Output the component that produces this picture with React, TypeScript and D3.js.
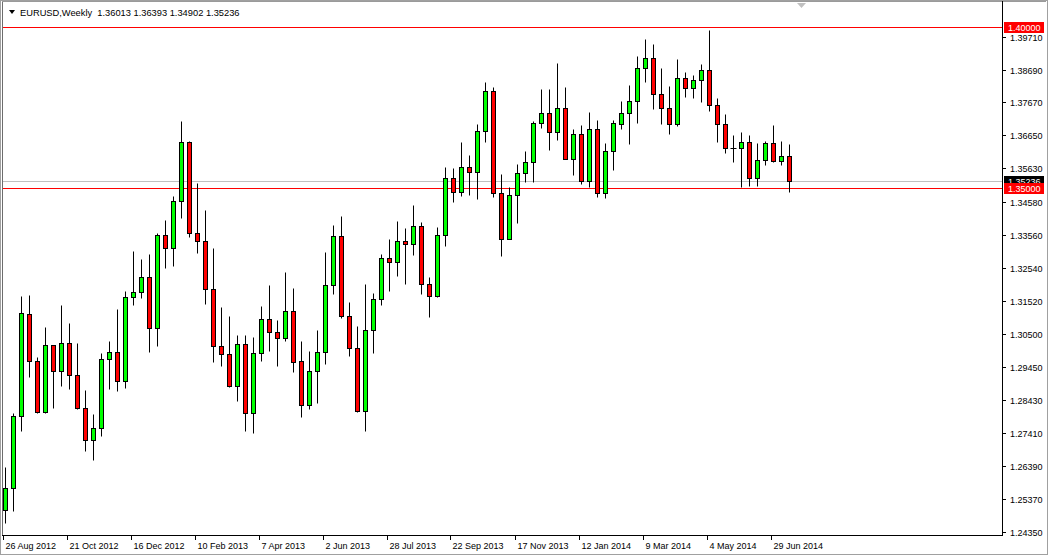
import React from 'react';
import * as d3 from 'd3';

const W = 1048;
const H = 555;
const plot = { left: 3, right: 1003, top: 2, bottom: 535 };

const dateLabels = [
  '26 Aug 2012', '21 Oct 2012', '16 Dec 2012', '10 Feb 2013', '7 Apr 2013',
  '2 Jun 2013', '28 Jul 2013', '22 Sep 2013', '17 Nov 2013', '12 Jan 2014',
  '9 Mar 2014', '4 May 2014', '29 Jun 2014',
];

const priceTicks = [
  1.3971, 1.3869, 1.3767, 1.3665, 1.3563, 1.3458, 1.3356, 1.3254,
  1.3152, 1.305, 1.2945, 1.2843, 1.2741, 1.2639, 1.2537, 1.2435,
];

const opens = [
  1.2501, 1.2572, 1.2793, 1.311, 1.2964, 1.2805, 1.3013, 1.2933, 1.302, 1.292,
  1.2818, 1.2718, 1.2756, 1.297, 1.2992, 1.2902, 1.3163, 1.3178, 1.3225, 1.3066,
  1.3355, 1.3315, 1.3461, 1.3644, 1.3361, 1.3337, 1.3187, 1.301, 1.2986, 1.2886,
  1.3017, 1.2802, 1.2989, 1.3094, 1.3054, 1.3035, 1.3119, 1.2964, 1.2827, 1.2933,
  1.2992, 1.32, 1.3352, 1.3104, 1.3004, 1.2808, 1.306, 1.3156, 1.3284, 1.3271,
  1.3337, 1.3327, 1.3383, 1.3203, 1.3166, 1.3355, 1.3532, 1.3489, 1.3566, 1.3551,
  1.3678, 1.3802, 1.3486, 1.3343, 1.3479, 1.3548, 1.3582, 1.3703, 1.3734, 1.3675,
  1.375, 1.3591, 1.3669, 1.3523, 1.3684, 1.3486, 1.3616, 1.37, 1.3734, 1.3771,
  1.3874, 1.3905, 1.3793, 1.375, 1.37, 1.3843, 1.3812, 1.3837, 1.3868, 1.3759,
  1.37, 1.3625, 1.3625, 1.3644, 1.3532, 1.3588, 1.3641, 1.3585, 1.36013,
];

const highs = [
  1.2635, 1.2802, 1.3166, 1.3169, 1.2976, 1.3069, 1.3013, 1.3138, 1.3082, 1.302,
  1.2874, 1.2799, 1.2989, 1.3026, 1.3125, 1.3181, 1.3305, 1.3281, 1.3296, 1.3361,
  1.3402, 1.3476, 1.3709, 1.3647, 1.3517, 1.3433, 1.3315, 1.3132, 1.3104, 1.3045,
  1.3045, 1.3038, 1.3135, 1.32, 1.3091, 1.324, 1.3191, 1.3026, 1.2995, 1.306,
  1.3302, 1.3386, 1.3414, 1.3147, 1.3072, 1.3203, 1.3175, 1.3296, 1.3343, 1.3399,
  1.3377, 1.3448, 1.3396, 1.3225, 1.338, 1.3566, 1.3563, 1.3644, 1.3604, 1.37,
  1.383, 1.3815, 1.3545, 1.3504, 1.3576, 1.3616, 1.3709, 1.3809, 1.3809, 1.3889,
  1.3815, 1.3684, 1.3697, 1.3737, 1.3712, 1.3641, 1.3712, 1.3771, 1.3821, 1.3911,
  1.3964, 1.3948, 1.3874, 1.3818, 1.3902, 1.3861, 1.3852, 1.3886, 1.3992, 1.3781,
  1.3731, 1.3666, 1.3675, 1.3666, 1.3641, 1.3647, 1.3697, 1.3647, 1.36393,
];

const lows = [
  1.2461, 1.2498, 1.2746, 1.2914, 1.2802, 1.2802, 1.2818, 1.2886, 1.2877, 1.2815,
  1.2684, 1.2659, 1.2731, 1.2877, 1.2871, 1.288, 1.3138, 1.3159, 1.2992, 1.301,
  1.3253, 1.3259, 1.3408, 1.3349, 1.3299, 1.3141, 1.2961, 1.2948, 1.2883, 1.284,
  1.2746, 1.274, 1.2964, 1.2995, 1.2948, 1.3026, 1.293, 1.279, 1.2815, 1.2833,
  1.2954, 1.3172, 1.3097, 1.2979, 1.2805, 1.2749, 1.2989, 1.3138, 1.3181, 1.3228,
  1.3203, 1.3293, 1.3172, 1.31, 1.3163, 1.3321, 1.3458, 1.3476, 1.3479, 1.3467,
  1.3644, 1.3473, 1.329, 1.3343, 1.3392, 1.352, 1.352, 1.3687, 1.3619, 1.365,
  1.3591, 1.3541, 1.3514, 1.3504, 1.3473, 1.347, 1.3557, 1.3684, 1.3638, 1.3703,
  1.383, 1.3746, 1.37, 1.3669, 1.3694, 1.3784, 1.3781, 1.3768, 1.374, 1.3644,
  1.361, 1.3582, 1.3504, 1.3507, 1.3507, 1.3572, 1.3582, 1.3572, 1.34902,
];

const closes = [
  1.2572, 1.2793, 1.3113, 1.2964, 1.2805, 1.3013, 1.2933, 1.302, 1.292, 1.2818,
  1.2718, 1.2756, 1.297, 1.2992, 1.2902, 1.3163, 1.3178, 1.3225, 1.3066, 1.3355,
  1.3315, 1.3461, 1.3644, 1.3361, 1.3337, 1.3187, 1.301, 1.2986, 1.2886, 1.3017,
  1.2802, 1.2989, 1.3094, 1.3054, 1.3035, 1.3119, 1.2961, 1.2827, 1.2933, 1.2992,
  1.32, 1.3352, 1.3104, 1.3004, 1.2808, 1.306, 1.3156, 1.3284, 1.3271, 1.3337,
  1.3327, 1.3383, 1.3203, 1.3166, 1.3355, 1.3532, 1.3489, 1.3566, 1.3551, 1.3678,
  1.3802, 1.3486, 1.3343, 1.3479, 1.3548, 1.3582, 1.3703, 1.3734, 1.3675, 1.375,
  1.3591, 1.3669, 1.3523, 1.3684, 1.3486, 1.3616, 1.3703, 1.3734, 1.3771, 1.3874,
  1.3905, 1.3793, 1.375, 1.37, 1.3843, 1.3812, 1.3837, 1.3868, 1.3759, 1.37,
  1.3625, 1.3625, 1.3644, 1.3532, 1.3588, 1.3641, 1.3585, 1.36, 1.35236,
];

const levels = [
  { price: 1.4, color: '#ff0000' },
  { price: 1.35, color: '#ff0000' },
];
const bid = 1.35236;

const font = '"Liberation Sans", Arial, sans-serif';

export default function App() {
  const x = d3.scaleLinear().domain([0, 98]).range([5.5, 789.5]);
  const y = d3.scaleLinear().domain([1.2435, 1.3971]).range([531.7, 36.7]);
  const snap = (v: number) => Math.round(v) + 0.5;
  const fmt = d3.format('.5f');

  return (
    <svg
      width={W}
      height={H}
      style={{ position: 'absolute', left: 0, top: 0, background: '#fff' }}
      fontFamily={font}
    >
      <rect x={0.5} y={0.5} width={W - 1} height={H - 1} fill="#fff" stroke="#a0a0a0" />
      <line x1={2.5} x2={2.5} y1={1} y2={plot.bottom} stroke="#6d6d6d" />
      <line x1={2} x2={W - 2} y1={1.5} y2={1.5} stroke="#9a9a9a" />

      {/* bid line + levels */}
      <line x1={plot.left} x2={plot.right} y1={snap(y(bid))} y2={snap(y(bid))} stroke="#c0c0c0" />
      {levels.map((l) => (
        <line key={l.price} x1={plot.left} x2={plot.right} y1={snap(y(l.price))} y2={snap(y(l.price))} stroke={l.color} />
      ))}

      {/* candles */}
      {opens.map((o, i) => {
        const c = closes[i];
        const cx = x(i);
        const top = snap(y(Math.max(o, c)));
        const bot = snap(y(Math.min(o, c)));
        return (
          <g key={i}>
            <line x1={cx} x2={cx} y1={snap(y(highs[i]))} y2={snap(y(lows[i]))} stroke="#000" />
            {top === bot ? (
              <line x1={cx - 3} x2={cx + 3} y1={top} y2={top} stroke="#000" />
            ) : (
              <rect
                x={cx - 2}
                y={top}
                width={4}
                height={bot - top}
                fill={c > o ? '#00ff00' : '#ff0000'}
                stroke="#000"
              />
            )}
          </g>
        );
      })}

      {/* plot frame */}
      <line x1={plot.right - 0.5} x2={plot.right - 0.5} y1={1} y2={plot.bottom + 1} stroke="#000" />
      <line x1={2} x2={plot.right} y1={plot.bottom + 0.5} y2={plot.bottom + 0.5} stroke="#000" />

      {/* right axis */}
      {priceTicks.map((p) => (
        <g key={p} transform={`translate(0,${snap(y(p))})`}>
          <line x1={plot.right} x2={plot.right + 3} stroke="#000" />
          <text x={1010} dy="0.35em" fontSize={9} fill="#000">
            {fmt(p)}
          </text>
        </g>
      ))}

      {/* price labels */}
      {[{ price: bid, color: '#000' }, ...levels].map((l) => (
        <g key={'lab' + l.price} transform={`translate(0,${snap(y(l.price))})`}>
          <rect x={plot.right + 1} y={-5.5} width={40} height={11} fill={l.color} />
          <text x={1008} dy="0.35em" fontSize={9} fill="#fff">
            {fmt(l.price)}
          </text>
        </g>
      ))}

      {/* date axis */}
      {dateLabels.map((d, k) => {
        const px = Math.round(x(k * 8)) - 2.5;
        return (
          <g key={d}>
            <line x1={px} x2={px} y1={plot.bottom + 1} y2={plot.bottom + 5} stroke="#000" />
            <text x={px + 2} y={549} fontSize={9} fill="#000">
              {d}
            </text>
          </g>
        );
      })}

      {/* header */}
      <path d="M9,10 L15,10 L12,14 Z" fill="#000" />
      <text x={20} y={16} fontSize={9.3} fill="#000" xmlSpace="preserve">
        {`EURUSD,Weekly  ${fmt(opens[98])} ${fmt(highs[98])} ${fmt(lows[98])} ${fmt(closes[98])}`}
      </text>
      <path d="M797,3 L806,3 L801.5,8 Z" fill="#c0c0c0" />
    </svg>
  );
}
